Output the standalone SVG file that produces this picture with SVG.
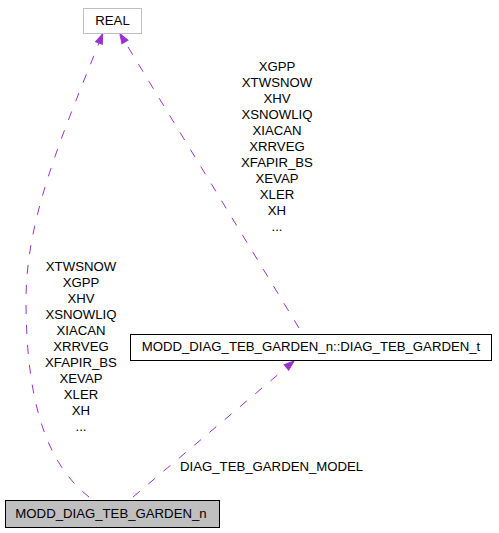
<svg xmlns="http://www.w3.org/2000/svg" width="499" height="533" viewBox="0 0 499 533">
<style>
text{font-family:"Liberation Sans",Arial,sans-serif;font-size:13.2px;fill:#000}
.c{text-anchor:middle}
.e{fill:none;stroke:#9a32cd;stroke-width:1;stroke-dasharray:9,11}
</style>
<defs>
<marker id="ah" viewBox="0 -4 11 8" refX="0" refY="0" markerWidth="11" markerHeight="8" markerUnits="userSpaceOnUse" orient="auto" overflow="visible">
<path d="M0,-3.5 L10,0 L0,3.5 Z" fill="#9a32cd" stroke="#9a32cd" stroke-width="1"/>
</marker>
</defs>
<rect width="499" height="533" fill="#fff"/>
<g id="edges">
<path class="e" d="M89,497 C55,470 26,420 26,300 C26,220 60,140 99,43" marker-end="url(#ah)"/>
<path class="e" d="M299,328 L125,42" marker-end="url(#ah)"/>
<path class="e" d="M133,497 L286.4,367.5" marker-end="url(#ah)"/>
<g id="label-left">
<text class="c" x="81" y="270.7">XTWSNOW</text>
<text class="c" x="81" y="286.7">XGPP</text>
<text class="c" x="81" y="302.7">XHV</text>
<text class="c" x="81" y="318.7">XSNOWLIQ</text>
<text class="c" x="81" y="334.7">XIACAN</text>
<text class="c" x="81" y="350.7">XRRVEG</text>
<text class="c" x="81" y="366.7">XFAPIR_BS</text>
<text class="c" x="81" y="382.7">XEVAP</text>
<text class="c" x="81" y="398.7">XLER</text>
<text class="c" x="81" y="414.7">XH</text>
<text class="c" x="81" y="430.7">...</text>
</g>
<g id="label-right">
<text class="c" x="277" y="70.5">XGPP</text>
<text class="c" x="277" y="86.5">XTWSNOW</text>
<text class="c" x="277" y="102.5">XHV</text>
<text class="c" x="277" y="118.5">XSNOWLIQ</text>
<text class="c" x="277" y="134.5">XIACAN</text>
<text class="c" x="277" y="150.5">XRRVEG</text>
<text class="c" x="277" y="166.5">XFAPIR_BS</text>
<text class="c" x="277" y="182.5">XEVAP</text>
<text class="c" x="277" y="198.5">XLER</text>
<text class="c" x="277" y="214.5">XH</text>
<text class="c" x="277" y="230.5">...</text>
</g>
<text x="180" y="471">DIAG_TEB_GARDEN_MODEL</text>
</g>
<g id="node-real">
<rect x="83.5" y="8.5" width="58" height="25" fill="#fff" stroke="#bfbfbf"/>
<text class="c" x="112.5" y="25">REAL</text>
</g>
<g id="node-diag-t">
<rect x="130.5" y="334.5" width="361" height="26" fill="#fff" stroke="#000"/>
<text class="c" x="311" y="351">MODD_DIAG_TEB_GARDEN_n::DIAG_TEB_GARDEN_t</text>
</g>
<g id="node-modd">
<rect x="5.5" y="500.5" width="214" height="27" fill="#bfbfbf" stroke="#000"/>
<text class="c" x="111" y="517.5">MODD_DIAG_TEB_GARDEN_n</text>
</g>
</svg>
